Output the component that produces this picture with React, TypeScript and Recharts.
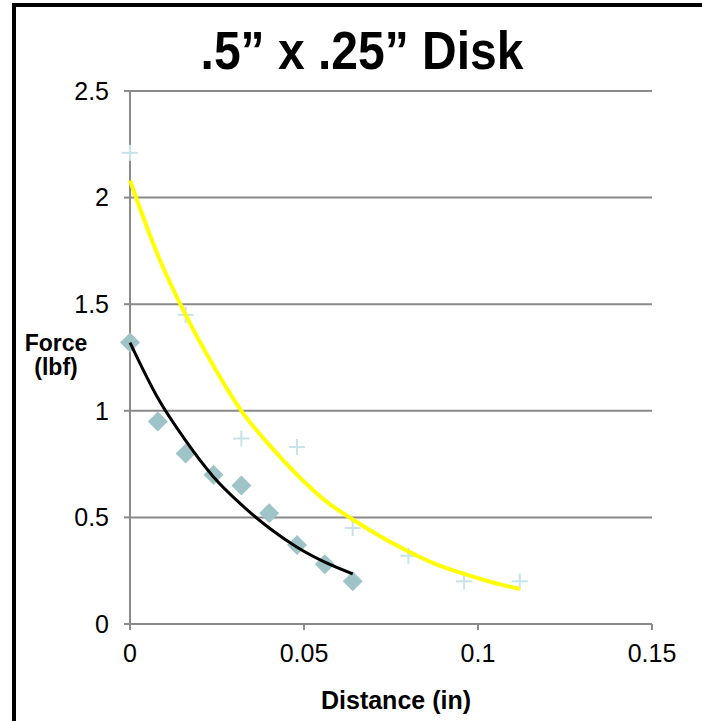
import React from "react";
import {
  ScatterChart,
  Scatter,
  XAxis,
  YAxis,
  CartesianGrid,
} from "recharts";

const distances = [0, 0.008, 0.016, 0.024, 0.032, 0.04, 0.048, 0.056, 0.064];
const forceDiamond = [1.32, 0.95, 0.8, 0.7, 0.65, 0.52, 0.37, 0.28, 0.2];

const distancesPlus = [0, 0.016, 0.032, 0.048, 0.064, 0.08, 0.096, 0.112];
const forcePlus = [2.21, 1.45, 0.87, 0.83, 0.45, 0.32, 0.2, 0.2];

// trendline samples
const trendBlackX = [0, 0.008, 0.016, 0.024, 0.032, 0.04, 0.048, 0.056, 0.064];
const trendBlackY = [1.32, 1.06, 0.86, 0.69, 0.56, 0.45, 0.36, 0.29, 0.235];

const trendYellowX = [
  0, 0.008, 0.016, 0.024, 0.032, 0.04, 0.048, 0.056, 0.064, 0.072, 0.08, 0.088,
  0.096, 0.104, 0.112,
];
const trendYellowY = [
  2.08, 1.73, 1.45, 1.21, 1.0, 0.84, 0.7, 0.58, 0.49, 0.41, 0.34, 0.28, 0.235,
  0.196, 0.164,
];

const xTicks = [0, 0.05, 0.1, 0.15];
const yTicks = [0, 0.5, 1, 1.5, 2, 2.5];

const zip = (xs: number[], ys: number[]) => xs.map((x, i) => ({ x, y: ys[i] }));

const GRID = "#8a8a8a";
const FONT = "'Liberation Sans', Arial, sans-serif";

function Diamond(props: { cx?: number; cy?: number }) {
  const { cx, cy } = props;
  if (cx == null || cy == null) return <g />;
  const r = 10;
  return (
    <polygon
      points={`${cx},${cy - r} ${cx + r},${cy} ${cx},${cy + r} ${cx - r},${cy}`}
      fill="#9fc4c7"
    />
  );
}

function Plus(props: { cx?: number; cy?: number }) {
  const { cx, cy } = props;
  if (cx == null || cy == null) return <g />;
  const r = 8;
  return (
    <g stroke="#c6e3e7" strokeWidth={2}>
      <line x1={cx - r} y1={cy} x2={cx + r} y2={cy} />
      <line x1={cx} y1={cy - r} x2={cx} y2={cy + r} />
    </g>
  );
}

const NoDot = () => <g />;

export default function App() {
  return (
    <div
      style={{
        position: "absolute",
        left: 0,
        top: 0,
        width: 702,
        height: 721,
        background: "#fff",
        fontFamily: FONT,
        overflow: "hidden",
      }}
    >
      <div
        style={{
          position: "absolute",
          left: 12,
          top: 3,
          width: 700,
          height: 714,
          borderLeft: "4px solid #000",
          borderTop: "4px solid #000",
          borderBottom: "4px solid #000",
        }}
      />
      <div
        style={{
          position: "absolute",
          left: 162,
          top: 29,
          width: 400,
          textAlign: "center",
          fontSize: 48,
          lineHeight: "48px",
          fontWeight: "bold",
          transform: "scaleY(1.12)",
          transformOrigin: "50% 85%",
        }}
      >
        .5” x .25” Disk
      </div>
      <div
        style={{
          position: "absolute",
          left: 16,
          top: 331,
          width: 80,
          textAlign: "center",
          fontSize: 23,
          lineHeight: "24px",
          fontWeight: "bold",
        }}
      >
        Force
        <br />
        (lbf)
      </div>
      <div
        style={{
          position: "absolute",
          left: 246,
          top: 688,
          width: 300,
          textAlign: "center",
          fontSize: 25,
          lineHeight: "25px",
          fontWeight: "bold",
        }}
      >
        Distance (in)
      </div>
      <div style={{ position: "absolute", left: 0, top: 0 }}>
        <ScatterChart
          width={702}
          height={721}
          margin={{ top: 91, right: 50, bottom: 37, left: 0 }}
        >
          <CartesianGrid vertical={false} stroke={GRID} strokeWidth={2} />
          <XAxis
            type="number"
            dataKey="x"
            domain={[0, 0.15]}
            ticks={xTicks}
            height={60}
            stroke={GRID}
            strokeWidth={2}
            tickSize={6}
            tickMargin={14}
            tick={{ fontSize: 25, fill: "#000" }}
          />
          <YAxis
            type="number"
            dataKey="y"
            domain={[0, 2.5]}
            ticks={yTicks}
            width={130}
            stroke={GRID}
            strokeWidth={2}
            tickSize={6}
            tickMargin={15}
            tick={{ fontSize: 25, fill: "#000" }}
          />
          <Scatter
            data={zip(distances, forceDiamond)}
            shape={Diamond}
            isAnimationActive={false}
          />
          <Scatter
            data={zip(distancesPlus, forcePlus)}
            shape={Plus}
            isAnimationActive={false}
          />
          <Scatter
            data={zip(trendYellowX, trendYellowY)}
            shape={NoDot}
            line={{ stroke: "#ffff00", strokeWidth: 4 }}
            lineJointType="monotoneX"
            isAnimationActive={false}
          />
          <Scatter
            data={zip(trendBlackX, trendBlackY)}
            shape={NoDot}
            line={{ stroke: "#000", strokeWidth: 3 }}
            lineJointType="monotoneX"
            isAnimationActive={false}
          />
        </ScatterChart>
      </div>
    </div>
  );
}
